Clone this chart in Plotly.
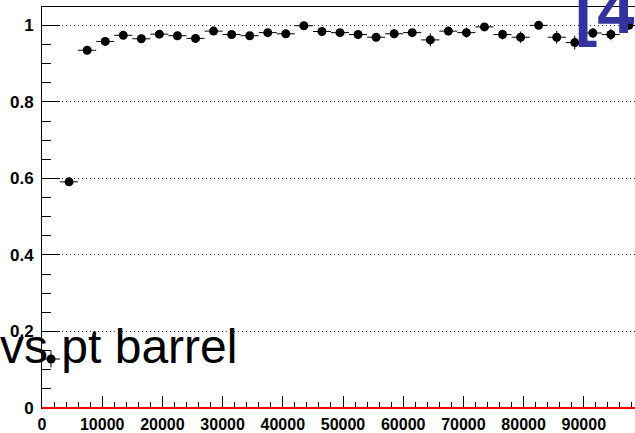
import plotly.graph_objects as go

# Efficiency vs pt (barrel), bins of 3000 in pt
pt_centers = [1500, 4500, 7500, 10500, 13500, 16500, 19500, 22500, 25500, 28500,
              31500, 34500, 37500, 40500, 43500, 46500, 49500, 52500, 55500, 58500,
              61500, 64500, 67500, 70500, 73500, 76500, 79500, 82500, 85500, 88500,
              91500, 94500, 97500]
pt_halfwidth = [1500] * len(pt_centers)
efficiency = [0.128, 0.591, 0.935, 0.958, 0.974, 0.965, 0.977, 0.973, 0.966, 0.985,
              0.976, 0.973, 0.981, 0.978, 0.999, 0.984, 0.981, 0.976, 0.969, 0.978,
              0.981, 0.962, 0.985, 0.981, 0.996, 0.976, 0.969, 1.000, 0.969, 0.955,
              0.980, 0.976, 1.000]
efficiency_err = [0.022, 0.010, 0.008, 0.007, 0.006, 0.006, 0.006, 0.006, 0.007, 0.006,
                  0.007, 0.007, 0.007, 0.007, 0.004, 0.008, 0.008, 0.009, 0.010, 0.009,
                  0.010, 0.017, 0.011, 0.013, 0.008, 0.013, 0.015, 0.005, 0.017, 0.018,
                  0.013, 0.015, 0.006]

x_tick_vals = [0, 10000, 20000, 30000, 40000, 50000, 60000, 70000, 80000, 90000]
x_tick_text = ["0", "10000", "20000", "30000", "40000", "50000", "60000", "70000", "80000", "90000"]
y_tick_vals = [0, 0.2, 0.4, 0.6, 0.8, 1.0]
y_tick_text = ["0", "0.2", "0.4", "0.6", "0.8", "1"]

title_text = "[4"
label_text = "vs pt barrel"

FONT = "Liberation Sans, Arial, Helvetica, sans-serif"
W, H = 635, 433
ML, MR, MT, MB = 42, 0, 7, 25
PW, PH = W - ML - MR, H - MT - MB


def px_x(p):
    return (p - ML) / PW


def px_y(p):
    return (H - MB - p) / PH


fig = go.Figure()
fig.add_trace(go.Scatter(
    x=pt_centers, y=efficiency,
    mode="markers",
    marker=dict(color="black", size=9, symbol="circle", line=dict(width=0)),
    error_x=dict(type="data", array=pt_halfwidth, color="black", thickness=1, width=0),
    error_y=dict(type="data", array=efficiency_err, color="black", thickness=1, width=0),
    showlegend=False,
))

fig.update_layout(
    width=W, height=H,
    margin=dict(l=ML, r=MR, t=MT, b=MB, pad=0),
    paper_bgcolor="white", plot_bgcolor="white",
    font=dict(family=FONT, color="black"),
    xaxis=dict(
        range=[0, PW / 60.2 * 10000],
        tickvals=x_tick_vals, ticktext=x_tick_text,
        ticks="inside", ticklen=12, tickwidth=1, tickcolor="black",
        minor=dict(dtick=2000, tick0=0, ticks="inside", ticklen=6, tickwidth=1, tickcolor="black", showgrid=False),
        showline=True, linecolor="black", linewidth=1, mirror=True,
        showgrid=False, zeroline=False,
        tickfont=dict(family=FONT, size=16, weight="bold", color="black"),
        ticklabelstandoff=2,
    ),
    yaxis=dict(
        range=[0, 1.048],
        tickvals=y_tick_vals, ticktext=y_tick_text,
        ticks="inside", ticklen=18, tickwidth=1, tickcolor="black",
        minor=dict(dtick=0.05, tick0=0, ticks="inside", ticklen=9, tickwidth=1, tickcolor="black", showgrid=False),
        showline=True, linecolor="black", linewidth=1, mirror=False,
        showgrid=True, gridcolor="#333", gridwidth=1, griddash="1px,3px",
        zeroline=False,
        tickfont=dict(family=FONT, size=17, weight="bold", color="black"),
        ticklabelstandoff=4,
    ),
    shapes=[dict(type="line", xref="paper", yref="paper", x0=0, x1=1, y0=0, y1=0,
                 line=dict(color="red", width=2), layer="above")],
    annotations=[
        dict(text=label_text, xref="paper", yref="paper",
             x=px_x(-2), y=px_y(375), xanchor="left", yanchor="bottom",
             showarrow=False, font=dict(family=FONT, size=48, color="black")),
        dict(text=title_text, xref="paper", yref="paper",
             x=px_x(573), y=px_y(49), xanchor="left", yanchor="bottom",
             showarrow=False, font=dict(family=FONT, size=67, weight="bold", color="#3333a0")),
    ],
)

fig.write_html("out.html")
